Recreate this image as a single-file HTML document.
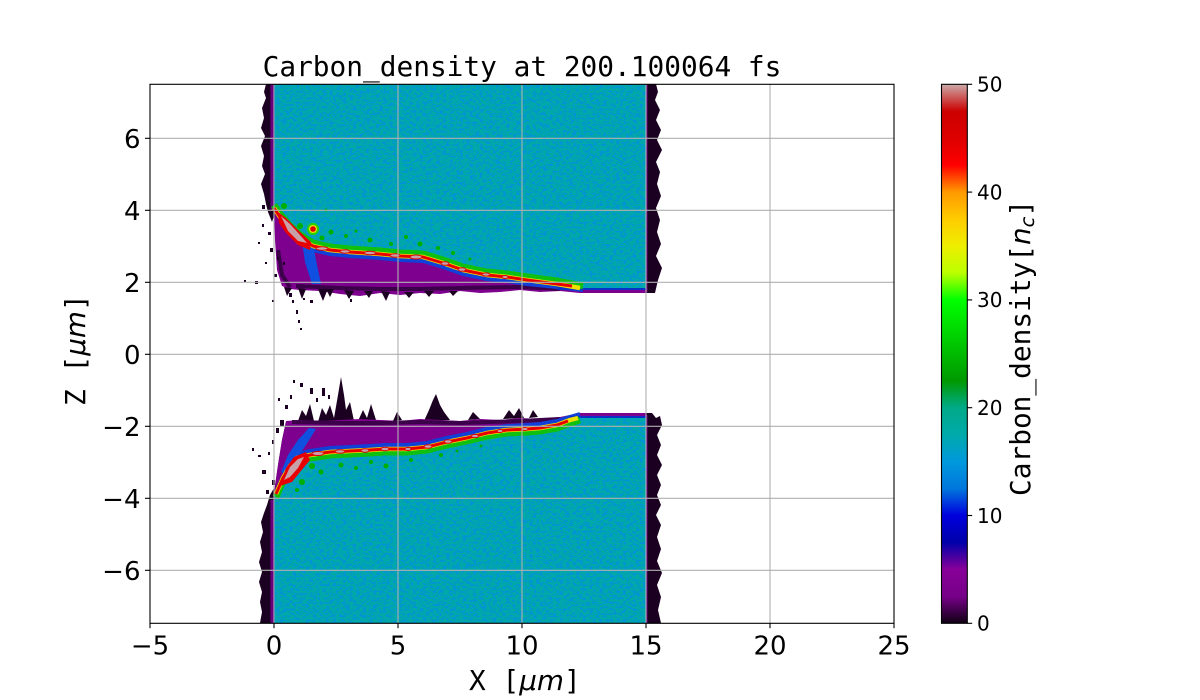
<!DOCTYPE html>
<html><head><meta charset="utf-8"><style>
html,body{margin:0;padding:0;background:#fff;}
svg{display:block;}
</style></head><body>
<svg width="1200" height="700" viewBox="0 0 1200 700" xmlns="http://www.w3.org/2000/svg">
<defs>
<linearGradient id="cmap" x1="0" y1="1" x2="0" y2="0">
<stop offset="0" stop-color="#100014"/>
<stop offset="0.05" stop-color="#770088"/>
<stop offset="0.10" stop-color="#880099"/>
<stop offset="0.15" stop-color="#0000aa"/>
<stop offset="0.20" stop-color="#0000dd"/>
<stop offset="0.25" stop-color="#0077dd"/>
<stop offset="0.30" stop-color="#0099dd"/>
<stop offset="0.35" stop-color="#00aaaa"/>
<stop offset="0.40" stop-color="#00aa88"/>
<stop offset="0.45" stop-color="#009900"/>
<stop offset="0.50" stop-color="#00bb00"/>
<stop offset="0.55" stop-color="#00dd00"/>
<stop offset="0.60" stop-color="#00ff00"/>
<stop offset="0.65" stop-color="#bbff00"/>
<stop offset="0.70" stop-color="#eeee00"/>
<stop offset="0.75" stop-color="#ffcc00"/>
<stop offset="0.80" stop-color="#ff9900"/>
<stop offset="0.85" stop-color="#ff0000"/>
<stop offset="0.90" stop-color="#dd0000"/>
<stop offset="0.95" stop-color="#cc0000"/>
<stop offset="0.975" stop-color="#cc5555"/>
<stop offset="1" stop-color="#ccaaaa"/>
</linearGradient>
<filter id="tex" x="0" y="0" width="1" height="1" color-interpolation-filters="sRGB">
<feTurbulence type="fractalNoise" baseFrequency="0.3 0.45" numOctaves="2" seed="7" result="n"/>
<feColorMatrix in="n" type="matrix" values="0 0 0 0 0  0 0 0 0 0.58  0 0 0 0 0.84  10 0 0 0 -5.0" result="b"/>
<feComposite in="b" in2="SourceGraphic" operator="atop"/>
</filter>
</defs>

<rect width="1200" height="700" fill="#fff"/>

<!-- ========== UPPER SLAB ========== -->
<path d="M274,84 L266,84 L264,92 L266,98 L262,108 L264,118 L261,128 L265,136 L261,146 L264,156 L262,166 L265,174 L261,184 L264,194 L266,204 L268,212 L272,222 L274,216 Z" fill="#1c0022"/>
<rect x="270.5" y="84" width="3.5" height="126" fill="#6a0080"/>
<path d="M646,84 L656,84 L658,92 L655,100 L660,110 L656,120 L661,130 L657,140 L662,150 L656,162 L660,172 L657,184 L661,196 L656,208 L660,220 L657,232 L661,244 L656,256 L662,268 L658,280 L655,293 L646,293 Z" fill="#1c0022"/>
<rect x="645" y="84" width="2.5" height="208" fill="#6a0080"/>
<!-- purple ablated region -->
<path d="M274,212 L280,217 L290,229 L300,238 L313,246 L330,250 L350,252 L380,254 L400,256 L423,257 L443,263 L463,270 L487,275 L507,277 L527,280 L557,284 L583,289 L600,290 L646,290 L646,293 L580,293 L560,291 L540,292 L520,290 L500,292 L480,293 L460,291 L440,294 L420,293 L400,295 L380,293 L360,296 L340,294 L320,291 L300,290 L290,289 L282,286 L277,270 L275,240 Z" fill="#7d008e"/>
<path d="M296,286 L340,288 L380,289 L420,289 L460,288 L520,287 L560,289" stroke="#3c004a" stroke-width="4" fill="none"/>
<path d="M278,250 L282,275 L290,287" stroke="#3c004a" stroke-width="4" fill="none"/>
<g fill="#1c0022">
<path d="M298,288 L302,299 L306,289 Z"/>
<path d="M318,289 L323,301 L327,291 L330,297 L334,289 Z"/>
<path d="M344,290 L349,299 L354,291 Z"/>
<path d="M364,291 L369,298 L373,291 Z"/>
<path d="M381,291 L386,301 L390,292 Z"/>
<path d="M404,292 L409,298 L414,292 Z"/>
<path d="M424,291 L429,297 L434,291 Z"/>
<path d="M449,291 L453,296 L458,291 Z"/>
<path d="M284,287 L287,296 L292,288 Z"/>
</g>
<!-- blue band -->
<path d="M300,243 L313,250 L330,254 L350,256 L380,258 L400,260 L423,261 L443,267 L463,274 L487,279 L507,281 L527,284 L557,287 L583,290" stroke="#1040d8" stroke-width="4" fill="none" stroke-linejoin="round"/>
<path d="M302,242 L314,250 L321,284 L312,284 L305,262 Z" fill="#1050e0"/>
<rect x="557" y="287" width="89" height="3" fill="#0a30c8"/>
<!-- teal body -->
<path d="M274,84 L646,84 L646,288 L583,288 L557,284 L527,280 L507,277 L487,275 L463,270 L443,263 L423,257 L400,256 L380,254 L350,252 L330,250 L313,246 L300,238 L290,229 L280,217 L274,208 Z" fill="#00a8a8" filter="url(#tex)"/>
<rect x="273.5" y="84" width="1.5" height="125" fill="#0070d0"/>
<!-- green specks -->
<g fill="#00b000">
<circle cx="331" cy="232" r="2.5"/><circle cx="346" cy="236" r="2"/>
<circle cx="370" cy="240" r="2.5"/><circle cx="391" cy="244" r="2"/>
<circle cx="406" cy="237" r="2"/><circle cx="420" cy="244" r="2.5"/>
<circle cx="326" cy="210" r="1.5"/><circle cx="284" cy="206" r="3"/>
<circle cx="356" cy="231" r="1.5"/><circle cx="438" cy="248" r="2"/>
<circle cx="453" cy="253" r="2"/><circle cx="470" cy="259" r="1.5"/>
<circle cx="300" cy="226" r="3"/><circle cx="322" cy="238" r="2.5"/>
</g>
<path d="M274,208 L280,217 L290,229 L300,238 L313,246 L330,250 L350,252 L380,254 L400,256 L423,257 L443,263 L463,270 L487,275 L507,277 L527,280 L557,284 L583,289" stroke="#10c010" stroke-width="7" fill="none" stroke-linejoin="round" transform="translate(0,-3)"/>
<path d="M274,208 L280,217 L290,229 L300,238 L313,246 L330,250 L350,252 L380,254 L400,256 L423,257 L443,263 L463,270 L487,275 L507,277 L527,280 L557,284 L580,288" stroke="#f0e000" stroke-width="4.5" fill="none" stroke-linejoin="round"/>
<path d="M274,208 L280,217 L290,229 L300,238 L313,246 L330,250 L350,252 L380,254 L400,256 L423,257 L443,263 L463,270 L487,275 L507,277 L527,280 L557,284 L572,286" stroke="#e80000" stroke-width="3" fill="none" stroke-linejoin="round"/>
<path d="M278,212 L286,218 L300,232 L311,242 L310,250 L298,245 L286,233 L279,223 Z" fill="#e80000"/>
<path d="M281,216 L290,224 L300,235 L307,243 L298,241 L288,231 Z" fill="#c8a0a8"/>
<g fill="#c8a0a8" stroke="#e00000" stroke-width="1">
<ellipse cx="322" cy="248.5" rx="6" ry="1.8"/>
<ellipse cx="345" cy="251.5" rx="5" ry="1.8"/>
<ellipse cx="370" cy="253" rx="6" ry="1.8"/>
<ellipse cx="395" cy="255.5" rx="5" ry="1.8"/>
<ellipse cx="416" cy="257" rx="6" ry="2"/>
<ellipse cx="445" cy="263.5" rx="4" ry="1.8"/>
<ellipse cx="462" cy="269.5" rx="4" ry="1.8"/>
<ellipse cx="486" cy="274.5" rx="4" ry="1.6"/>
<ellipse cx="505" cy="277" rx="3" ry="1.5"/>
</g>
<circle cx="313" cy="229" r="6" fill="#30d000"/>
<circle cx="313" cy="229" r="4" fill="#f0e000"/>
<circle cx="313" cy="229" r="2.8" fill="#e00000"/>
<g fill="#1c0022">
<rect x="262" y="224" width="2" height="3"/><rect x="268" y="232" width="3" height="3"/>
<rect x="258" y="242" width="2" height="2"/><rect x="270" y="248" width="3" height="4"/>
<rect x="244" y="280" width="2" height="2"/><rect x="255" y="281" width="3" height="3"/>
<rect x="277" y="257" width="2" height="3"/><rect x="283" y="262" width="2" height="3"/>
<rect x="289" y="293" width="3" height="4"/><rect x="292" y="300" width="2" height="3"/>
<rect x="296" y="310" width="2" height="4"/><rect x="298" y="320" width="2" height="3"/>
<rect x="300" y="328" width="2" height="2"/><rect x="303" y="298" width="2" height="2"/>
<rect x="310" y="300" width="3" height="3"/><rect x="350" y="299" width="2" height="3"/>
<rect x="265" y="262" width="2" height="2"/><rect x="274" y="274" width="3" height="3"/>
<rect x="272" y="300" width="2" height="2"/><rect x="262" y="205" width="3" height="4"/>
</g>

<!-- ========== LOWER SLAB ========== -->
<path d="M274,488 L270,495 L267,505 L264,513 L261,522 L263,532 L260,542 L262,552 L259,562 L262,572 L259,582 L262,592 L260,602 L262,612 L260,623 L274,623 Z" fill="#1c0022"/>
<rect x="270.5" y="500" width="3.5" height="123" fill="#6a0080"/>
<path d="M646,413 L652,413 L656,418 L660,416 L662,425 L657,435 L661,445 L657,455 L662,465 L657,475 L661,485 L657,495 L661,505 L656,515 L661,525 L657,537 L661,549 L657,561 L662,573 L657,585 L661,597 L658,610 L661,623 L646,623 Z" fill="#1c0022"/>
<rect x="645" y="415" width="2.5" height="208" fill="#6a0080"/>
<g fill="#1c0022">
<path d="M318,422 L322,408 L326,415 L330,405 L334,418 L338,395 L341,377 L344,395 L346,410 L350,402 L354,421 Z"/>
<path d="M298,421 L302,410 L306,416 L310,404 L314,421 Z"/>
<path d="M358,421 L363,410 L367,418 L371,404 L376,420 Z"/>
<path d="M393,421 L397,412 L402,420 Z"/>
<path d="M424,421 L429,410 L433,400 L436,394 L440,405 L444,412 L450,420 Z"/>
<path d="M468,420 L473,412 L480,419 Z"/>
<path d="M503,419 L509,410 L514,416 L519,408 L524,418 Z"/>
<path d="M529,418 L533,410 L538,417 Z"/>
<path d="M286,422 L282,440 L278,465 L275,487 L280,470 L284,445 Z"/>
</g>
<path d="M274,494 L276,494 L283,478 L290,466 L297,458 L310,455 L330,452 L350,451 L370,450 L385,449 L407,449 L427,447 L447,442 L467,438 L487,433 L507,430 L527,429 L540,428 L557,425 L570,420 L580,417 L646,416 L646,413 L580,413 L560,417 L540,419 L520,418 L500,420 L480,419 L460,421 L440,420 L420,419 L400,421 L380,420 L360,419 L340,420 L320,421 L300,420 L286,421 L282,440 L278,465 L275,485 Z" fill="#7d008e"/>
<path d="M292,422 L340,423 L380,423 L420,422 L460,423 L520,421 L560,419" stroke="#3c004a" stroke-width="4" fill="none"/>
<path d="M297,454 L310,451 L330,448 L350,447 L370,446 L385,445 L407,445 L427,443 L447,438 L467,434 L487,429 L507,426 L527,425 L540,424 L557,421 L570,417 L580,414" stroke="#1040d8" stroke-width="4" fill="none" stroke-linejoin="round"/>
<path d="M281,472 L288,455 L298,440 L309,428 L316,429 L306,445 L297,458 L288,476 Z" fill="#1050e0"/>
<rect x="570" y="416" width="76" height="3" fill="#0a30c8"/>
<path d="M274,623 L646,623 L646,418 L580,418 L570,420 L557,425 L540,428 L527,429 L507,430 L487,433 L467,438 L447,442 L427,447 L407,449 L385,449 L370,450 L350,451 L330,452 L310,455 L297,458 L290,466 L283,478 L276,494 L274,498 Z" fill="#00a8a8" filter="url(#tex)"/>
<rect x="273.5" y="497" width="1.5" height="126" fill="#0070d0"/>
<g fill="#00b000">
<circle cx="341" cy="465" r="2.5"/><circle cx="356" cy="468" r="2"/>
<circle cx="386" cy="466" r="2.5"/><circle cx="411" cy="460" r="2"/>
<circle cx="302" cy="482" r="3"/><circle cx="297" cy="490" r="2"/>
<circle cx="321" cy="472" r="2.5"/><circle cx="441" cy="455" r="2"/>
<circle cx="481" cy="446" r="1.5"/><circle cx="312" cy="466" r="3"/>
<circle cx="371" cy="462" r="2"/><circle cx="457" cy="451" r="1.5"/>
</g>
<path d="M276,494 L283,478 L290,466 L297,458 L310,455 L330,452 L350,451 L370,450 L385,449 L407,449 L427,447 L447,442 L467,438 L487,433 L507,430 L527,429 L540,428 L557,425 L570,420 L580,417" stroke="#10c010" stroke-width="7" fill="none" stroke-linejoin="round" transform="translate(0,3)"/>
<path d="M276,494 L283,478 L290,466 L297,458 L310,455 L330,452 L350,451 L370,450 L385,449 L407,449 L427,447 L447,442 L467,438 L487,433 L507,430 L527,429 L540,428 L557,425 L570,420 L578,418" stroke="#f0e000" stroke-width="4.5" fill="none" stroke-linejoin="round"/>
<path d="M276,494 L283,478 L290,466 L297,458 L310,455 L330,452 L350,451 L370,450 L385,449 L407,449 L427,447 L447,442 L467,438 L487,433 L507,430 L527,429 L540,428 L557,425 L568,421" stroke="#e80000" stroke-width="3" fill="none" stroke-linejoin="round"/>
<path d="M280,486 L286,468 L294,457 L306,452 L310,460 L300,472 L292,482 Z" fill="#e80000"/>
<path d="M284,480 L290,467 L298,459 L304,457 L298,468 L290,477 Z" fill="#c8a0a8"/>
<g fill="#c8a0a8" stroke="#e00000" stroke-width="1">
<ellipse cx="318" cy="453.5" rx="6" ry="2"/>
<ellipse cx="340" cy="451.5" rx="5" ry="1.8"/>
<ellipse cx="365" cy="450.5" rx="4" ry="1.8"/>
<ellipse cx="385" cy="449" rx="4" ry="1.8"/>
<ellipse cx="408" cy="449" rx="3" ry="1.6"/>
<ellipse cx="428" cy="446.5" rx="4" ry="1.8"/>
<ellipse cx="448" cy="441.5" rx="4" ry="1.8"/>
<ellipse cx="475" cy="436" rx="4" ry="1.6"/>
<ellipse cx="500" cy="431" rx="3" ry="1.5"/>
<ellipse cx="525" cy="429" rx="3" ry="1.5"/>
</g>
<g fill="#1c0022">
<rect x="300" y="383" width="3" height="4"/><rect x="293" y="380" width="2" height="3"/>
<rect x="310" y="388" width="3" height="6"/><rect x="322" y="388" width="3" height="8"/>
<rect x="328" y="395" width="2" height="4"/><rect x="285" y="405" width="3" height="4"/>
<rect x="280" y="420" width="4" height="6"/><rect x="276" y="428" width="3" height="5"/>
<rect x="272" y="440" width="2" height="4"/><rect x="268" y="452" width="2" height="3"/>
<rect x="252" y="448" width="2" height="3"/><rect x="258" y="455" width="3" height="2"/>
<rect x="262" y="470" width="4" height="4"/><rect x="272" y="480" width="3" height="5"/>
<rect x="266" y="490" width="3" height="4"/><rect x="278" y="398" width="2" height="3"/>
<rect x="290" y="395" width="2" height="4"/><rect x="316" y="398" width="2" height="4"/>
</g>

<!-- ========== GRID ========== -->
<g stroke="#b0b0b0" stroke-width="1.1">
<line x1="274" y1="84" x2="274" y2="623"/>
<line x1="398" y1="84" x2="398" y2="623"/>
<line x1="522" y1="84" x2="522" y2="623"/>
<line x1="646" y1="84" x2="646" y2="623"/>
<line x1="770" y1="84" x2="770" y2="623"/>
<line x1="150" y1="138.3" x2="894" y2="138.3"/>
<line x1="150" y1="210.3" x2="894" y2="210.3"/>
<line x1="150" y1="282.3" x2="894" y2="282.3"/>
<line x1="150" y1="354.3" x2="894" y2="354.3"/>
<line x1="150" y1="426.3" x2="894" y2="426.3"/>
<line x1="150" y1="498.3" x2="894" y2="498.3"/>
<line x1="150" y1="570.3" x2="894" y2="570.3"/>
</g>

<!-- ========== AXES ========== -->
<rect x="150" y="84.3" width="744" height="539" fill="none" stroke="#000" stroke-width="1.1"/>
<g stroke="#000" stroke-width="1.1">
<line x1="150" y1="623.3" x2="150" y2="628.2"/>
<line x1="274" y1="623.3" x2="274" y2="628.2"/>
<line x1="398" y1="623.3" x2="398" y2="628.2"/>
<line x1="522" y1="623.3" x2="522" y2="628.2"/>
<line x1="646" y1="623.3" x2="646" y2="628.2"/>
<line x1="770" y1="623.3" x2="770" y2="628.2"/>
<line x1="894" y1="623.3" x2="894" y2="628.2"/>
<line x1="145" y1="138.3" x2="150" y2="138.3"/>
<line x1="145" y1="210.3" x2="150" y2="210.3"/>
<line x1="145" y1="282.3" x2="150" y2="282.3"/>
<line x1="145" y1="354.3" x2="150" y2="354.3"/>
<line x1="145" y1="426.3" x2="150" y2="426.3"/>
<line x1="145" y1="498.3" x2="150" y2="498.3"/>
<line x1="145" y1="570.3" x2="150" y2="570.3"/>
</g>
<g font-family="DejaVu Sans, Liberation Sans, sans-serif" font-size="26" fill="#000">
<g text-anchor="middle">
<text x="150" y="654.5">−5</text>
<text x="274" y="654.5">0</text>
<text x="398" y="654.5">5</text>
<text x="522" y="654.5">10</text>
<text x="646" y="654.5">15</text>
<text x="770" y="654.5">20</text>
<text x="894" y="654.5">25</text>
</g>
<g text-anchor="end">
<text x="140.5" y="148">6</text>
<text x="140.5" y="220">4</text>
<text x="140.5" y="292">2</text>
<text x="140.5" y="364">0</text>
<text x="140.5" y="436">−2</text>
<text x="140.5" y="508">−4</text>
<text x="140.5" y="580">−6</text>
</g>
</g>

<text x="522" y="76" text-anchor="middle" font-family="DejaVu Sans Mono, Liberation Mono, monospace" font-size="27.8" fill="#000">Carbon_density at 200.100064 fs</text>
<text x="469" y="690" font-family="DejaVu Sans Mono, Liberation Mono, monospace" font-size="27.8" fill="#000" xml:space="preserve">X [<tspan font-family="DejaVu Sans, Liberation Sans, sans-serif" font-style="italic">μm</tspan>]</text>
<text transform="translate(85,406) rotate(-90)" font-family="DejaVu Sans Mono, Liberation Mono, monospace" font-size="27.8" fill="#000" xml:space="preserve">Z [<tspan font-family="DejaVu Sans, Liberation Sans, sans-serif" font-style="italic">μm</tspan>]</text>

<!-- ========== COLORBAR ========== -->
<rect x="941.5" y="84.3" width="25.8" height="539" fill="url(#cmap)"/>
<rect x="941.5" y="84.3" width="25.8" height="539" fill="none" stroke="#000" stroke-width="1.1"/>
<g stroke="#000" stroke-width="1.1">
<line x1="967.3" y1="623.3" x2="972.2" y2="623.3"/>
<line x1="967.3" y1="515.5" x2="972.2" y2="515.5"/>
<line x1="967.3" y1="407.7" x2="972.2" y2="407.7"/>
<line x1="967.3" y1="299.9" x2="972.2" y2="299.9"/>
<line x1="967.3" y1="192.1" x2="972.2" y2="192.1"/>
<line x1="967.3" y1="84.3" x2="972.2" y2="84.3"/>
</g>
<g font-family="DejaVu Sans, Liberation Sans, sans-serif" font-size="20" fill="#000">
<text x="977" y="630.6">0</text>
<text x="977" y="522.8">10</text>
<text x="977" y="415">20</text>
<text x="977" y="307.2">30</text>
<text x="977" y="199.4">40</text>
<text x="977" y="91.6">50</text>
</g>
<text transform="translate(1030,496) rotate(-90)" font-family="DejaVu Sans Mono, Liberation Mono, monospace" font-size="27.8" fill="#000">Carbon_density[<tspan font-family="DejaVu Sans, Liberation Sans, sans-serif" font-style="italic">n</tspan><tspan font-family="DejaVu Sans, Liberation Sans, sans-serif" font-style="italic" font-size="19.5" dy="4">c</tspan><tspan dy="-4">]</tspan></text>
</svg>
</body></html>
